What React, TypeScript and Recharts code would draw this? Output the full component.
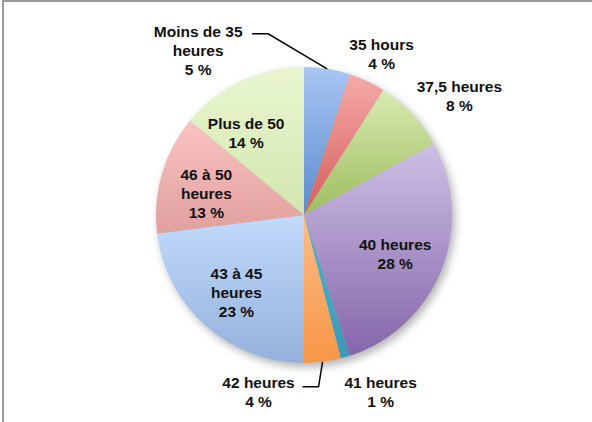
import { PieChart, Pie, Cell } from "recharts";

const categories = [
  "Moins de 35\nheures",
  "35 hours",
  "37,5 heures",
  "40 heures",
  "41 heures",
  "42 heures",
  "43 à 45\nheures",
  "46 à 50\nheures",
  "Plus de 50",
];
const shares = [5, 4, 8, 28, 1, 4, 23, 13, 14];

// gradient top / bottom per slice
const topColors = ["#a8c6f2", "#f5aaa8", "#d8eab0", "#cfc0e6", "#52b4cc", "#fbbc88", "#c2dbfc", "#fac3c2", "#e9f6d0"];
const bottomColors = ["#5a8bcc", "#d45e5a", "#9dbd5e", "#8466aa", "#3a9ab5", "#f79646", "#94b0dc", "#e0a09e", "#d3e6ae"];

const data = categories.map((name, i) => ({ name, value: shares[i] }));

const RAD = Math.PI / 180;
const LINE_H = 19;

// label placement: radius factor + nudge; "lead" = leader line offsets from the edge point
const placement: Record<number, any> = {
  0: { lead: [[-59, -35], [-75, -35]], text: [-129, -18] },
  1: { r: 1.2, d: [2, 0] },
  2: { r: 1.32, d: [13, 15] },
  3: { r: 0.67, d: [-1, 2] },
  4: { r: 1.25, d: [25, -1] },
  5: { lead: [[-4, 25], [-20, 25]], text: [-64, 30] },
  6: { r: 0.69, d: [0, 1] },
  7: { r: 0.68, d: [-1, 7] },
  8: { r: 0.68, d: [-15, 9] },
};

const renderLabel = (props: any) => {
  const { cx, cy, midAngle, outerRadius, index, value, name } = props;
  const p = placement[index];
  const lines = [...String(name).split("\n"), `${value} %`];
  let tx: number;
  let ty: number;
  let leader = null;
  if (p.lead) {
    const ex = cx + outerRadius * Math.cos(-midAngle * RAD);
    const ey = cy + outerRadius * Math.sin(-midAngle * RAD);
    const pts = [[ex, ey], ...p.lead.map(([dx, dy]: number[]) => [ex + dx, ey + dy])];
    leader = (
      <polyline
        points={pts.map((q) => q.join(",")).join(" ")}
        fill="none"
        stroke="#000"
        strokeWidth={1.5}
      />
    );
    tx = ex + p.text[0];
    ty = ey + p.text[1];
  } else {
    const r = outerRadius * p.r;
    tx = cx + r * Math.cos(-midAngle * RAD) + p.d[0];
    ty = cy + r * Math.sin(-midAngle * RAD) + p.d[1];
  }
  return (
    <g key={`lbl-${index}`}>
      {leader}
      <text
        x={tx}
        y={ty}
        textAnchor="middle"
        fontFamily="'Liberation Sans', Arial, sans-serif"
        fontWeight="bold"
        fontSize={15.5}
        fill="#111"
      >
        {lines.map((l, i) => (
          <tspan
            key={i}
            x={tx}
            y={ty + (i - (lines.length - 1) / 2) * LINE_H}
            dominantBaseline="central"
          >
            {l}
          </tspan>
        ))}
      </text>
    </g>
  );
};

export default function App() {
  return (
    <div
      style={{
        position: "absolute",
        left: 0,
        top: 0,
        width: 592,
        height: 422,
        overflow: "hidden",
        background: "#fff",
      }}
    >
      <div
        style={{
          position: "absolute",
          left: 2,
          top: 0,
          width: 640,
          height: 460,
          borderTop: "2px solid #9a9a9a",
          borderLeft: "2px solid #9a9a9a",
        }}
      />
      <PieChart width={592} height={422} style={{ position: "absolute", left: 0, top: 0 }}>
        <defs>
          {topColors.map((c, i) => (
            <linearGradient key={i} id={`g${i}`} x1="0" y1="0" x2="0" y2="1">
              <stop offset="0%" stopColor={c} />
              <stop offset="100%" stopColor={bottomColors[i]} />
            </linearGradient>
          ))}
          <filter id="shadow" x="-20%" y="-20%" width="140%" height="140%">
            <feGaussianBlur stdDeviation="4" />
          </filter>
        </defs>
        <Pie
          data={[{ name: "shadow", value: 100 }]}
          dataKey="value"
          cx={302}
          cy={214}
          outerRadius={148}
          stroke="none"
          isAnimationActive={false}
          label={false}
          labelLine={false}
        >
          <Cell fill="#000" fillOpacity={0.3} filter="url(#shadow)" />
        </Pie>
        <Pie
          data={data}
          dataKey="value"
          nameKey="name"
          cx={299}
          cy={210}
          outerRadius={148}
          startAngle={90}
          endAngle={-270}
          stroke="none"
          isAnimationActive={false}
          labelLine={false}
          label={renderLabel}
        >
          {data.map((d, i) => (
            <Cell key={d.name} fill={`url(#g${i})`} />
          ))}
        </Pie>
      </PieChart>
    </div>
  );
}
